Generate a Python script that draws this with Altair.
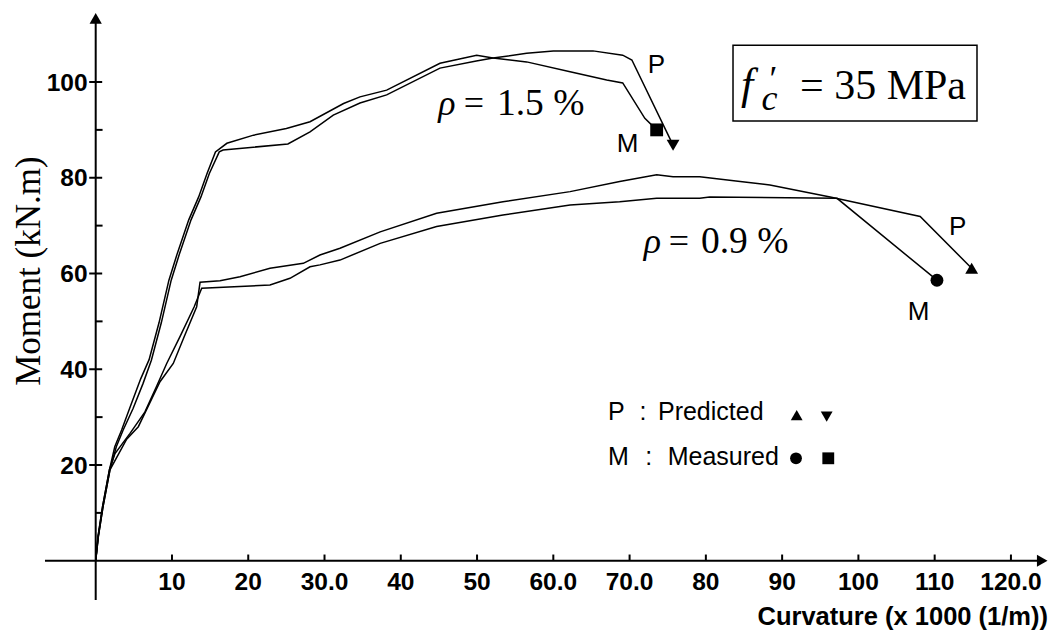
import altair as alt
import pandas as pd

# ---------------- data ----------------
# rho = 1.5 %, predicted
p15_x = [0, 0.34, 0.96, 1.87, 2.7, 3.6, 4.9, 6.2, 7.3, 8.6, 9.9, 11.0, 12.5, 13.8, 14.9, 16.2, 16.7,
         25.2, 28.1, 31.15, 34.65, 38.15, 45.14, 49.9, 52.1, 56.5, 60.0, 65.2, 69.1, 70.3, 75.7]
p15_y = [0, 5.0, 11.3, 19.0, 23.8, 27.3, 31.8, 37.0, 41.9, 49.7, 58.6, 64.2, 71.2, 76.0, 80.9, 85.4, 85.8,
         87.05, 89.6, 93.1, 95.6, 97.3, 102.9, 104.4, 105.0, 106.0, 106.5, 106.5, 105.6, 104.6, 86.8]
# rho = 1.5 %, measured
m15_x = [0, 0.3, 0.9, 1.8, 2.5, 3.4, 4.6, 5.9, 7.0, 8.3, 9.6, 10.7, 12.2, 13.5, 14.6, 15.7, 17.2, 20.7,
         25.0, 28.1, 32.5, 34.65, 38.15, 45.14, 49.95, 52.1, 56.5, 62.2, 67.0, 69.1, 72.0, 73.55]
m15_y = [0, 5.0, 11.3, 19.0, 23.8, 27.3, 32.5, 38.0, 42.0, 49.7, 58.6, 64.2, 71.2, 76.0, 80.9, 85.4, 87.2, 88.9,
         90.3, 91.7, 95.5, 96.9, 98.3, 103.9, 105.6, 105.0, 104.2, 102.15, 100.4, 99.8, 92.4, 90.0]
# rho = 0.9 %, predicted
p09_x = [0, 0.34, 0.96, 1.87, 4.06, 5.59, 8.43, 10.17, 11.6, 13.24, 13.68, 16.3, 18.92, 22.85, 27.22, 29.4,
         32.03, 37.3, 44.7, 53.4, 62.2, 68.7, 73.55, 75.7, 79.2, 84.5, 88.4, 96.3, 108.1, 114.85]
p09_y = [0, 5.0, 11.3, 19.0, 25.4, 28.0, 37.4, 41.2, 46.8, 53.06, 58.16, 58.5, 59.33, 61.09, 62.13, 63.87,
         65.26, 68.7, 72.6, 75.0, 77.1, 79.2, 80.6, 80.2, 80.2, 79.2, 78.5, 76.0, 71.9, 61.1]
# rho = 0.9 %, measured
m09_x = [0, 0.3, 0.9, 1.8, 2.53, 4.5, 6.46, 8.0, 9.31, 11.05, 12.9, 13.9, 22.85, 25.47, 28.1, 29.4, 32.03,
         37.3, 44.7, 53.4, 62.2, 68.7, 73.55, 79.2, 80.5, 97.2, 110.3]
m09_y = [0, 5.0, 11.3, 19.0, 22.4, 26.6, 31.1, 36.5, 41.2, 46.8, 53.0, 56.9, 57.6, 59.0, 61.4, 61.8, 62.8,
         66.3, 69.8, 72.2, 74.3, 75.0, 75.7, 75.7, 76.0, 75.7, 58.6]

series_names = ["P 1.5", "M 1.5", "P 0.9", "M 0.9"]
series_shapes = ["triangle-down", "square", "triangle-up", "circle"]

x_ticks = [10, 20, 30, 40, 50, 60, 70, 80, 90, 100, 110, 120]
x_tick_labels = ["10", "20", "30.0", "40", "50", "60.0", "70.0", "80", "90", "100", "110", "120.0"]
y_ticks = [20, 40, 60, 80, 100]
y_tick_labels = ["20", "40", "60", "80", "100"]
y_minor = [10, 30, 50, 70, 90]

# ---------------- layout ----------------
W, H = 1041, 621
XPX, X0 = 7.627, 87.7      # px per unit, px of x=0
YPX, Y0 = 4.7875, 552.75   # px per unit, px of y=0
XMIN, XMAX = -X0 / XPX, (W - X0) / XPX
YMIN, YMAX = (Y0 - H) / YPX, Y0 / YPX

xs = alt.Scale(domain=[XMIN, XMAX], nice=False, zero=False)
ys = alt.Scale(domain=[YMIN, YMAX], nice=False, zero=False)
X = alt.X("x:Q", scale=xs, axis=None)
Y = alt.Y("y:Q", scale=ys, axis=None)

SANS = "Liberation Sans"
SERIF = "Liberation Serif"


def txt(df, **kw):
    base = dict(color="black", baseline="alphabetic")
    base.update(kw)
    return alt.Chart(df).mark_text(**base).encode(X, Y, text="t:N")


# curves
frames = []
for name, cx, cy in zip(series_names, [p15_x, m15_x, p09_x, m09_x], [p15_y, m15_y, p09_y, m09_y]):
    frames.append(pd.DataFrame({"x": cx, "y": cy, "series": name, "i": range(len(cx))}))
curves = pd.concat(frames, ignore_index=True)

lines = alt.Chart(curves).mark_line(color="black", strokeWidth=1.5).encode(
    X, Y, detail="series:N", order="i:Q")

ends = pd.DataFrame({
    "x": [f["x"].iloc[-1] for f in frames],
    "y": [f["y"].iloc[-1] for f in frames],
    "shape": series_shapes,
})
markers = alt.Chart(ends).mark_point(filled=True, color="black", opacity=1, size=165).encode(
    X, Y, shape=alt.Shape("shape:N", scale=None))

# axes
axes_df = pd.DataFrame({"x": [-6.65, 0], "x2": [123.9, 0], "y": [0, -8.2], "y2": [0, 112.6]})
axes = alt.Chart(axes_df).mark_rule(color="black", strokeWidth=2).encode(
    X, Y, x2="x2:Q", y2="y2:Q")

arrows_df = pd.DataFrame({"x": [0, 124.1], "y": [113.3, 0], "shape": ["triangle-up", "triangle-right"]})
arrows = alt.Chart(arrows_df).mark_point(filled=True, color="black", opacity=1, size=150).encode(
    X, Y, shape=alt.Shape("shape:N", scale=None))

xt_df = pd.DataFrame({"x": x_ticks, "y": [0] * len(x_ticks), "y2": [1.3] * len(x_ticks), "t": x_tick_labels})
xtick_marks = alt.Chart(xt_df).mark_rule(color="black", strokeWidth=2).encode(X, Y, y2="y2:Q")
xtick_text = txt(xt_df, font=SANS, fontSize=24.5, fontWeight="bold", align="center", dy=29)

yt_df = pd.DataFrame({"y": y_ticks, "x": [-0.85] * len(y_ticks), "x2": [0.85] * len(y_ticks),
                      "t": y_tick_labels, "lx": [-1.07] * len(y_ticks)})
ytick_marks = alt.Chart(yt_df).mark_rule(color="black", strokeWidth=2).encode(X, Y, x2="x2:Q")
ytick_text = alt.Chart(yt_df).mark_text(font=SANS, fontSize=24.5, fontWeight="bold", baseline="alphabetic",
                                       align="right", dy=8.5, color="black").encode(
    alt.X("lx:Q", scale=xs, axis=None), Y, text="t:N")
ym_df = pd.DataFrame({"y": y_minor, "x": [0] * len(y_minor), "x2": [0.9] * len(y_minor)})
yminor_marks = alt.Chart(ym_df).mark_rule(color="black", strokeWidth=2).encode(X, Y, x2="x2:Q")

# axis titles
ytitle = txt(pd.DataFrame({"x": [-7.25], "y": [60.5], "t": ["Moment (kN.m)"]}),
             font=SERIF, fontSize=35, angle=270, align="center")
xtitle = txt(pd.DataFrame({"x": [124.86], "y": [-13.4], "t": ["Curvature (x 1000 (1/m))"]}),
             font=SANS, fontSize=25.5, fontWeight="bold", align="right")

# rho annotations
rho = txt(pd.DataFrame({"x": [46.06, 73.0], "y": [93.1, 64.28], "t": ["ρ", "ρ"]}),
          font=SERIF, fontSize=36, fontStyle="italic", align="center")
eq = txt(pd.DataFrame({"x": [49.6, 76.47], "y": [93.1, 64.28], "t": ["=", "="]}),
         font=SERIF, fontSize=36, align="center")
rhov = txt(pd.DataFrame({"x": [52.6, 79.35], "y": [93.1, 64.28], "t": ["1.5 %", "0.9 %"]}),
           font=SERIF, fontSize=37.5, align="left")

# P / M curve labels
pm = txt(pd.DataFrame({"x": [73.53, 69.73, 113.0, 107.88], "y": [101.88, 85.38, 68.04, 50.27],
                       "t": ["P", "M", "P", "M"]}),
         font=SANS, fontSize=26, align="center")

# legend
leg_text = (
    txt(pd.DataFrame({"x": [67.17, 67.17], "y": [29.38, 20.0], "t": ["P", "M"]}),
        font=SANS, fontSize=25, align="left")
    + txt(pd.DataFrame({"x": [71.76, 72.5], "y": [29.38, 20.0], "t": [":", ":"]}),
          font=SANS, fontSize=25, align="center")
    + txt(pd.DataFrame({"x": [73.72, 75.0], "y": [29.38, 20.0], "t": ["Predicted", "Measured"]}),
          font=SANS, fontSize=25, align="left")
)
leg_m_df = pd.DataFrame({"x": [91.91, 95.84, 91.82, 96.05], "y": [30.44, 30.09, 21.4, 21.4],
                         "shape": ["triangle-up", "triangle-down", "circle", "square"]})
leg_m = alt.Chart(leg_m_df).mark_point(filled=True, color="black", opacity=1, size=140).encode(
    X, Y, shape=alt.Shape("shape:N", scale=None))

# f'c box
box = alt.Chart(pd.DataFrame({"x": [83.56], "x2": [115.55], "y": [91.85], "y2": [107.7]})).mark_rect(
    filled=False, stroke="black", strokeWidth=1.5).encode(X, Y, x2="x2:Q", y2="y2:Q")
f_txt = txt(pd.DataFrame({"x": [84.61], "y": [96.45], "t": ["f"]}),
            font=SERIF, fontSize=44, fontStyle="italic", align="left")
c_txt = txt(pd.DataFrame({"x": [88.35], "y": [94.15], "t": ["c"]}),
            font=SERIF, fontSize=36, fontStyle="italic", align="center")
pr_txt = txt(pd.DataFrame({"x": [88.85], "y": [98.2], "t": ["′"]}),
             font=SERIF, fontSize=36, align="center")
mpa_txt = txt(pd.DataFrame({"x": [92.34], "y": [96.45], "t": ["= 35 MPa"]}),
              font=SERIF, fontSize=42, align="left")

chart = alt.layer(
    axes, arrows, xtick_marks, ytick_marks, yminor_marks, xtick_text, ytick_text,
    lines, markers, ytitle, xtitle, rho, eq, rhov, pm, leg_text, leg_m,
    box, f_txt, c_txt, pr_txt, mpa_txt,
).properties(width=W, height=H, padding=0, background="white").configure_view(strokeWidth=0)

chart.save("out.html", embed_options={"renderer": "svg", "actions": False})
